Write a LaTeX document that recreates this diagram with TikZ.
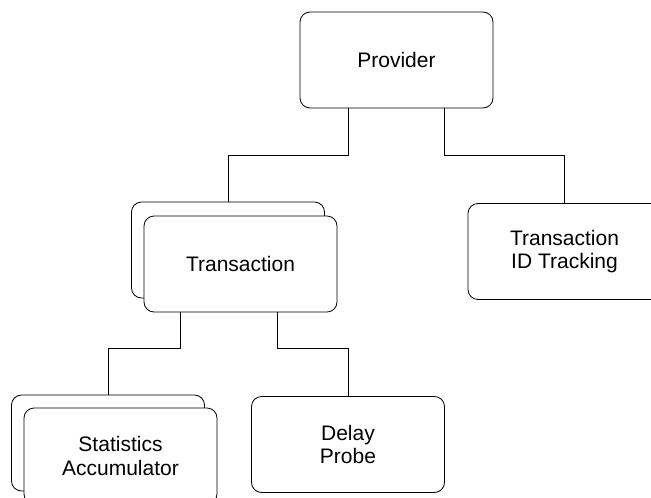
\documentclass[tikz,border=0pt]{standalone}
\usepackage{fontspec}
\setmainfont{Liberation Sans}
\begin{document}
\begin{tikzpicture}[x=1pt,y=-1pt,
  box/.style={draw=black, line width=0.8pt, rounded corners=10pt, fill=white,
    minimum width=193pt, minimum height=96pt, align=center, inner sep=0pt,
    font=\fontsize{21}{23.5}\selectfont},
  link/.style={draw=black, line width=0.8pt}]
\useasboundingbox (0,0) rectangle (651,498);
\clip (0,0) rectangle (651,498);

% top level
\node[box] (prov) at (396.5,60) {Provider};

% second level
\node[box] (trB) at (228,250) {};
\node[box] (tr) at (240.5,264) {Transaction};
\node[box] (tid) at (564.5,251.5) {Transaction\\ID Tracking};

% third level
\node[box] (stB) at (108,443) {};
\node[box] (st) at (120.5,456) {Statistics\\Accumulator};
\node[box] (dp) at (348,444.5) {Delay\\Probe};

% elbow connectors
\draw[link] ([xshift=-48.5pt]prov.south) -- ++(0,47) -| (trB.north);
\draw[link] ([xshift=47.5pt]prov.south) -- ++(0,47) -| (tid.north);
\draw[link] ([xshift=-60.5pt]tr.south) -- ++(0,36) -| (stB.north);
\draw[link] ([xshift=36.5pt]tr.south) -- ++(0,36) -| (dp.north);
\end{tikzpicture}
\end{document}
